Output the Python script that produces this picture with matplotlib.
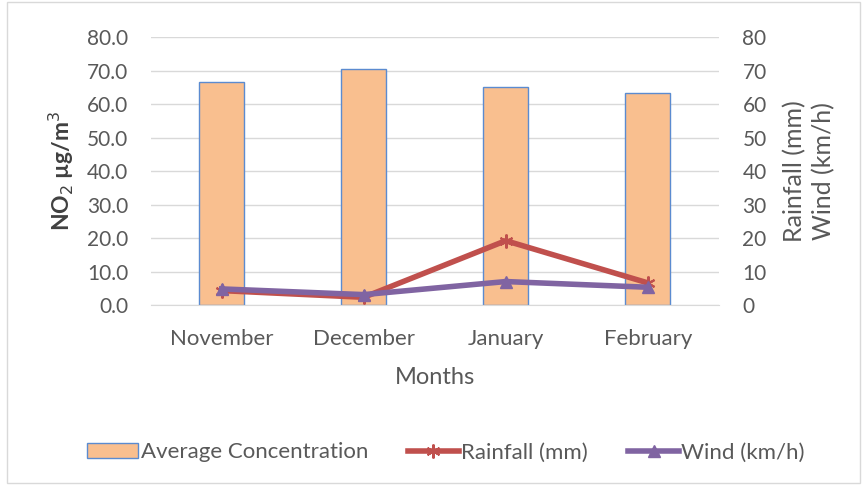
import matplotlib
matplotlib.use("Agg")
import matplotlib.pyplot as plt
from matplotlib.patches import Rectangle

months = ["November", "December", "January", "February"]
avg_conc = [66.5, 70.5, 65.1, 63.3]
rainfall = [4.3, 2.3, 19.2, 6.6]
wind = [4.8, 3.1, 7.0, 5.3]
left_ticks = [0, 10, 20, 30, 40, 50, 60, 70, 80]

plt.rcParams['font.family'] = ['Lato', 'DejaVu Sans']
tc = '#595959'

fig = plt.figure(figsize=(8.66, 4.88), dpi=100)
ax = fig.add_axes([0.174, 0.375, 0.656, 0.549])
x = list(range(len(months)))
bars = ax.bar(x, avg_conc, width=0.32, color='#F9BF8F', edgecolor='#5B8BD0', linewidth=1.0,
              label='Average Concentration', zorder=2)
ax.set_xlim(-0.5, 3.5)
ax.set_ylim(0, 80)
ax.set_yticks(left_ticks)
ax.set_yticklabels([f"{v:.1f}" for v in left_ticks])
ax.grid(axis='y', color='#D9D9D9', linewidth=1, zorder=0)
ax.set_axisbelow(True)
for s in ['top', 'right', 'left']:
    ax.spines[s].set_visible(False)
ax.spines['bottom'].set_color('#D9D9D9')
ax.tick_params(axis='y', length=0, colors=tc, labelsize=15, pad=16)
ax.tick_params(axis='x', length=0, colors=tc, labelsize=16, pad=17)
ax.set_xticks(x)
ax.set_xticklabels(months)
ax.set_ylabel('NO$_2$ µg/m$^3$', fontsize=16.5, fontweight='bold', color='#404040', labelpad=8)
ax.set_xlabel('Months', fontsize=17, color=tc, labelpad=13)

ax2 = ax.twinx()
ax2.set_ylim(0, 80)
ax2.set_yticks(left_ticks)
ax2.set_yticklabels([str(v) for v in left_ticks])
for s in ['top', 'right', 'left', 'bottom']:
    ax2.spines[s].set_visible(False)
ax2.tick_params(axis='y', length=0, colors=tc, labelsize=15, pad=17)
l1, = ax2.plot(x, rainfall, color='#C0504D', linewidth=4, marker=(6, 2, 0), markersize=10,
               markeredgewidth=1.5, label='Rainfall (mm)', zorder=3)
l2, = ax2.plot(x, wind, color='#8064A2', linewidth=4, marker='^', markersize=9,
               label='Wind (km/h)', zorder=4)
ax2.set_ylabel('Rainfall (mm)\nWind (km/h)', fontsize=18, color=tc, labelpad=12, linespacing=1.3)

fig.legend([bars, l1, l2], ['Average Concentration', 'Rainfall (mm)', 'Wind (km/h)'],
           loc='center', bbox_to_anchor=(0.515, 0.073), ncol=3, frameon=False,
           fontsize=16, labelcolor=tc, handlelength=2.3, handletextpad=0.1, columnspacing=1.8)

fig.patches.append(Rectangle((0.008, 0.01), 0.985, 0.985, transform=fig.transFigure,
                             fill=False, edgecolor='#D9D9D9', linewidth=1))
fig.savefig('out.png', dpi=100)
